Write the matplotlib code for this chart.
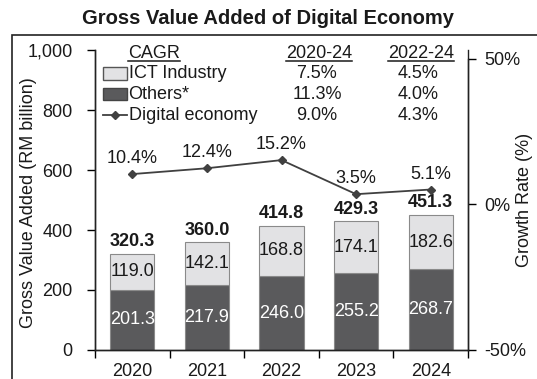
import numpy as np
import matplotlib.pyplot as plt
from matplotlib.patches import Rectangle
from matplotlib.lines import Line2D

plt.rcParams['font.family'] = ['Liberation Sans', 'DejaVu Sans']

years = ['2020', '2021', '2022', '2023', '2024']
others = [201.3, 217.9, 246.0, 255.2, 268.7]
ict = [119.0, 142.1, 168.8, 174.1, 182.6]
totals = [320.3, 360.0, 414.8, 429.3, 451.3]
growth = [10.4, 12.4, 15.2, 3.5, 5.1]

cagr_rows = ['ICT Industry', 'Others*', 'Digital economy']
cagr_2020_24 = ['7.5%', '11.3%', '9.0%']
cagr_2022_24 = ['4.5%', '4.0%', '4.3%']

dark = '#5a5a5c'
light = '#e2e2e4'
edge = '#8a8a8a'
line_c = '#404040'
txt_c = '#1a1a1a'

W, H = 537, 379
fig = plt.figure(figsize=(W / 100, H / 100), dpi=100)
ax = fig.add_axes([95 / W, (H - 350) / H, 373 / W, 300 / H])
ax2 = ax.twinx()

x = np.arange(len(years))
w = 0.59
ax.bar(x, others, w, color=dark, edgecolor=edge, linewidth=0.8, zorder=2)
ax.bar(x, ict, w, bottom=others, color=light, edgecolor=edge, linewidth=0.8, zorder=2)

fs = 13
for i in range(len(years)):
    ax.text(x[i], others[i] / 2, f'{others[i]:.1f}', ha='center', va='center',
            color='white', fontsize=fs, zorder=3)
    ax.text(x[i], others[i] + ict[i] / 2, f'{ict[i]:.1f}', ha='center', va='center',
            color=txt_c, fontsize=fs, zorder=3)
    ax.text(x[i], totals[i] + 40, f'{totals[i]:.1f}', ha='center', va='center',
            color=txt_c, fontsize=fs, fontweight='bold', zorder=3)

ax.set_xlim(-0.5, 4.5)
ax.set_ylim(0, 1000)
ax.set_yticks([0, 200, 400, 600, 800, 1000])
ax.set_yticklabels(['0', '200', '400', '600', '800', '1,000'])
# category boundaries carry the tick marks, centres carry the year labels
ax.set_xticks(np.arange(-0.5, 5, 1), labels=[''] * 6)
ax.set_xticks(x, labels=years, minor=True)
ax.tick_params(axis='x', which='major', length=6, direction='out', width=1)
ax.tick_params(axis='x', which='minor', length=0, labelsize=fs, pad=9, labelcolor=txt_c)
ax.tick_params(axis='y', length=6, direction='out', width=1, labelsize=fs, pad=10,
               labelcolor=txt_c)
ax.set_ylabel('Gross Value Added (RM billion)', fontsize=fs, color=txt_c)
ax.yaxis.set_label_coords(-0.155, 0.49)

ax2.plot(x, growth, color=line_c, linewidth=1.3, marker='D', markersize=4, zorder=4)
for i in range(len(years)):
    ax2.text(x[i], growth[i] + 5.3, f'{growth[i]}%', ha='center', va='center',
             color=txt_c, fontsize=fs)
ax2.set_ylim(-50, 53)
ax2.set_yticks([-50, 0, 50])
ax2.set_yticklabels(['-50%', '0%', '50%'])
ax2.tick_params(axis='y', length=6, direction='out', width=1, labelsize=fs, pad=6,
                labelcolor=txt_c)
ax2.set_ylabel('Growth Rate (%)', fontsize=fs, color=txt_c)
ax2.yaxis.set_label_coords(1.13, 0.5)

for a in (ax, ax2):
    a.spines['top'].set_visible(False)
    for s in a.spines.values():
        s.set_color('#222222')
        s.set_linewidth(1)
ax2.spines['right'].set_bounds(-50, 50)

# CAGR table in the upper left of the plot
row_y = [0.921, 0.853, 0.78]
head_txt = []
for hx, s, ha in [(0.088, 'CAGR', 'left'), (0.60, '2020-24', 'center'),
                  (0.874, '2022-24', 'center')]:
    head_txt.append(ax.text(hx, 0.987, s, transform=ax.transAxes, ha=ha, va='center',
                            fontsize=fs, color=txt_c, zorder=5))
for r, label in enumerate(cagr_rows):
    ax.text(0.09, row_y[r], label, transform=ax.transAxes, ha='left', va='center',
            fontsize=fs, color=txt_c, zorder=5)
    ax.text(0.595, row_y[r], cagr_2020_24[r], transform=ax.transAxes, ha='center',
            va='center', fontsize=fs, color=txt_c, zorder=5)
    ax.text(0.866, row_y[r], cagr_2022_24[r], transform=ax.transAxes, ha='center',
            va='center', fontsize=fs, color=txt_c, zorder=5)

ax.add_patch(Rectangle((0.021, row_y[0] - 0.021), 0.064, 0.043, transform=ax.transAxes,
                       facecolor=light, edgecolor='#555555', linewidth=1, zorder=5))
ax.add_patch(Rectangle((0.021, row_y[1] - 0.021), 0.064, 0.043, transform=ax.transAxes,
                       facecolor=dark, edgecolor='#444444', linewidth=1, zorder=5))
ax.add_line(Line2D([0.021, 0.085], [row_y[2] + 0.005] * 2, transform=ax.transAxes,
                   color=line_c, linewidth=1.3, zorder=5))
ax.add_line(Line2D([0.053], [row_y[2] + 0.005], transform=ax.transAxes, color=line_c,
                   marker='D', markersize=4, linestyle='none', zorder=6))

# underline the table headers
fig.canvas.draw()
renderer = fig.canvas.get_renderer()
inv = ax.transAxes.inverted()
for t in head_txt:
    bb = t.get_window_extent(renderer)
    (x0, y0), (x1, _) = inv.transform([[bb.x0, bb.y0], [bb.x1, bb.y1]])
    ax.add_line(Line2D([x0, x1], [y0 + 0.006] * 2, transform=ax.transAxes,
                       color=txt_c, linewidth=1.1, clip_on=False, zorder=5))

fig.text(268 / W, 1 - 18 / H, 'Gross Value Added of Digital Economy', ha='center',
         va='center', fontsize=14.5, fontweight='bold', color=txt_c)

# outer frame
fig.patches.append(Rectangle((12 / W, -0.1), 1.2, 1 - 35 / H + 0.1,
                             transform=fig.transFigure, fill=False,
                             edgecolor='#222222', linewidth=1.2))

fig.savefig('out.png', dpi=100)
